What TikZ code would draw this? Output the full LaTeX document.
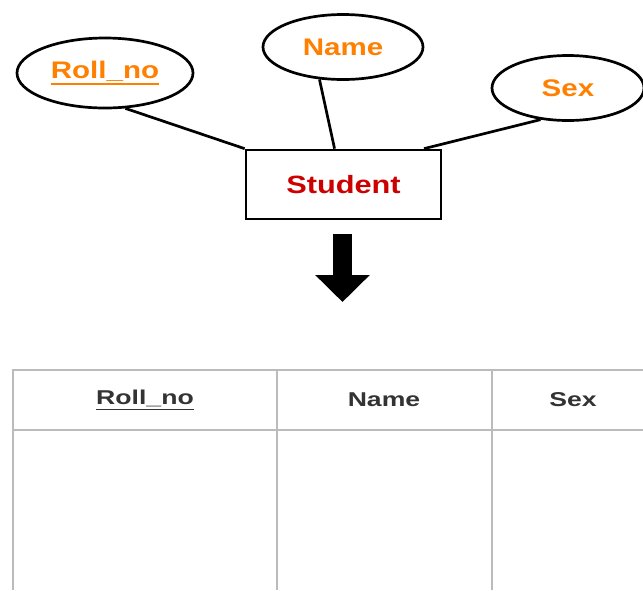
\documentclass[tikz,border=0pt]{standalone}
\usepackage{fontspec}
\setmainfont{Liberation Sans}
\newfontfamily\erfont{Liberation Sans}[FakeStretch=1.23]
\newfontfamily\tabfont{Liberation Sans}[FakeStretch=1.33]
\usetikzlibrary{shapes.geometric, arrows.meta}
\usepackage{xcolor}
\definecolor{attrcol}{HTML}{FF8000}
\definecolor{entcol}{HTML}{CC0000}
\definecolor{gridcol}{HTML}{BBBBBB}
\definecolor{headcol}{HTML}{333333}
% key attribute: thick underline
\newcommand{\keyul}[1]{\vtop{\hbox{#1}\kern2pt\hrule height 1.6pt}}
\tikzset{
	attrib/.style={ellipse, draw, line width=2.7pt, inner sep=0pt, text=attrcol,
		font=\erfont\bfseries\fontsize{24}{28}\selectfont},
	entity/.style={rectangle, draw, line width=2.7pt, minimum width=195pt,
		minimum height=69pt, text=entcol, font=\erfont\bfseries\fontsize{25}{29}\selectfont},
	link/.style={line width=2.7pt},
	cell/.style={text=headcol, font=\tabfont\bfseries\fontsize{20}{24}\selectfont},
	gridline/.style={draw=gridcol, line width=1.8pt}}

\begin{document}
\begin{tikzpicture}[x=1pt, y=1pt]
		\useasboundingbox (0,0) rectangle (643,-590);

		% ER part
		\node[attrib, minimum width=176pt, minimum height=70pt] (roll) at (105,-73) {\keyul{Roll\_no}};
		\node[attrib, minimum width=160pt, minimum height=65pt] (name) at (343,-47) {Name};
		\node[attrib, minimum width=152pt, minimum height=65pt] (sex) at (568,-88) {Sex};
		\node[entity] (student) at (343.5,-184.5) {Student};

		\draw[link]
		(roll.-60) -- (student.north west)
		(name.-126) -- (student.104.6)
		(sex.-131) -- (student.24)
		;

		% mapping arrow
		\coordinate (maptop) at (342.5,-234);
		\coordinate (maptip) at (342.5,-302);
		\draw[line width=19pt, -{Triangle[length=27pt, width=53pt]}] (maptop) -- (maptip);

		% relation table
		\draw[gridline] (13,-590) -- (13,-370) -- (643,-370);
		\draw[gridline] (13,-430) -- (643,-430);
		\draw[gridline] (277,-370) -- (277,-590);
		\draw[gridline] (492,-370) -- (492,-590);

		\node[cell] (hroll) at (145,-400) {\keyul{Roll\_no}};
		\node[cell] (hname) at (384,-400) {Name};
		\node[cell] (hsex) at (573,-400) {Sex};
	\end{tikzpicture}
\end{document}
